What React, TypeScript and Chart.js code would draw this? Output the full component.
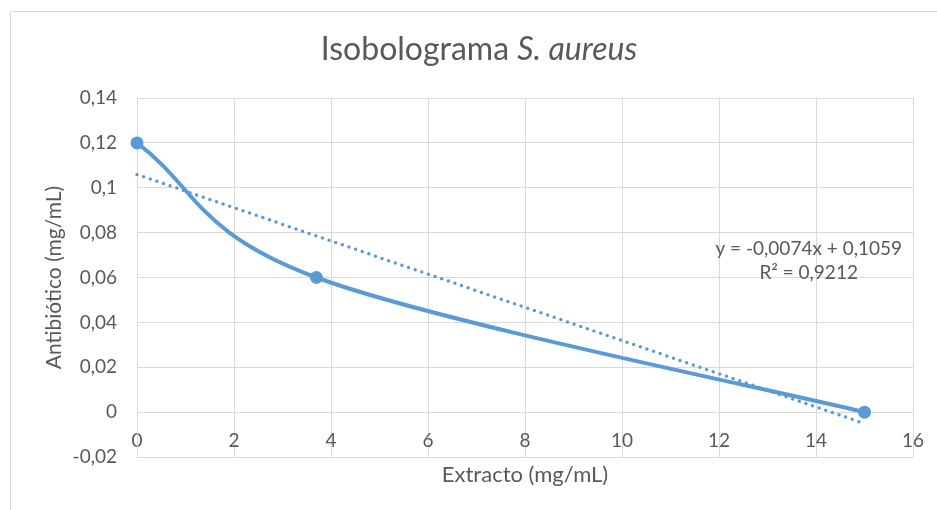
import { useEffect, useRef } from 'react';
import { Chart, registerables } from 'chart.js';

Chart.register(...registerables);

// ---- data ----
const extractoX = [0, 3.7, 15];
const antibioticoY = [0.12, 0.06, 0];
const trendX = [0, 15];
const trendY = [0.1059, -0.0051];
const xRange = [0, 16];
const yRange = [-0.02, 0.14];
const xStep = 2;
const yStep = 0.02;
const titleMain = 'Isobolograma ';
const titleItalic = 'S. aureus';
const xTitle = 'Extracto (mg/mL)';
const yTitle = 'Antibiótico (mg/mL)';
const equationLines = ['y = -0,0074x + 0,1059', 'R² = 0,9212'];

const FONT = 'Lato, "Open Sans", sans-serif';
const TEXT = '#595959';
const GRID = '#D9D9D9';
const BLUE = '#5B9BD5';

const fmt = (v: number) => String(Number(v.toFixed(4))).replace('.', ',');

// Excel-like smoothing (Catmull-Rom control points on the library's own point positions)
const smoothPlugin = {
  id: 'excelSmooth',
  beforeDatasetDraw(chart: any, args: any) {
    if (args.index !== 0) return;
    const meta = args.meta;
    const pts = meta.data;
    const n = pts.length;
    for (let i = 0; i < n; i++) {
      const p = pts[i];
      const prev = pts[i - 1] || p;
      const next = pts[i + 1] || p;
      const k = i === 0 ? 1 / 3 : 1 / 6;
      const dx = (next.x - prev.x) * k;
      const dy = (next.y - prev.y) * k;
      p.cp1x = p.x - dx;
      p.cp1y = p.y - dy;
      p.cp2x = p.x + dx;
      p.cp2y = p.y + dy;
    }
    meta.dataset._pointsUpdated = true;
    meta.dataset._path = undefined;
  },
};

const decorPlugin = {
  id: 'decor',
  beforeDraw(chart: any) {
    const ctx = chart.ctx;
    ctx.save();
    ctx.fillStyle = '#ffffff';
    ctx.fillRect(0, 0, chart.width, chart.height);
    ctx.strokeStyle = GRID;
    ctx.lineWidth = 1;
    ctx.beginPath();
    ctx.moveTo(10.5, chart.height);
    ctx.lineTo(10.5, 11.5);
    ctx.lineTo(chart.width, 11.5);
    ctx.stroke();
    ctx.restore();
  },
  afterDatasetsDraw(chart: any) {
    const ctx = chart.ctx;
    const xs = chart.scales.x;
    const ys = chart.scales.y;
    const cx = xs.getPixelForValue(13.85);
    const cy = ys.getPixelForValue(0.0729);
    ctx.save();
    ctx.fillStyle = TEXT;
    ctx.font = `19px ${FONT}`;
    ctx.textAlign = 'center';
    ctx.textBaseline = 'middle';
    equationLines.forEach((t, i) => ctx.fillText(t, cx, cy + i * 24));
    ctx.restore();
  },
  afterDraw(chart: any) {
    const ctx = chart.ctx;
    ctx.save();
    ctx.fillStyle = TEXT;
    ctx.textBaseline = 'middle';
    ctx.textAlign = 'left';
    const nFont = `32px ${FONT}`;
    const iFont = `italic 32px ${FONT}`;
    ctx.font = nFont;
    const w1 = ctx.measureText(titleMain).width;
    ctx.font = iFont;
    const w2 = ctx.measureText(titleItalic).width;
    const x0 = 479 - (w1 + w2) / 2;
    ctx.font = nFont;
    ctx.fillText(titleMain, x0, 50);
    ctx.font = iFont;
    ctx.fillText(titleItalic, x0 + w1, 50);
    ctx.restore();
  },
};

export default function App() {
  const ref = useRef<HTMLCanvasElement>(null);
  useEffect(() => {
    if (!ref.current) return;
    const chart = new Chart(ref.current, {
      type: 'line',
      data: {
        datasets: [
          {
            data: extractoX.map((x, i) => ({ x, y: antibioticoY[i] })),
            borderColor: BLUE,
            backgroundColor: BLUE,
            borderWidth: 4,
            pointRadius: 6.5,
            pointBorderWidth: 0,
            pointBackgroundColor: BLUE,
            tension: 0.4,
            fill: false,
            clip: false,
          },
          {
            data: trendX.map((x, i) => ({ x, y: trendY[i] })),
            borderColor: BLUE,
            borderWidth: 3.5,
            borderDash: [0, 7],
            borderCapStyle: 'round',
            pointRadius: 0,
            tension: 0,
            fill: false,
            clip: false,
          },
        ],
      } as any,
      options: {
        animation: false,
        responsive: false,
        devicePixelRatio: 1,
        layout: { padding: { top: 98, left: 11, right: 24, bottom: 0 } },
        plugins: { legend: { display: false }, tooltip: { enabled: false }, title: { display: false } },
        scales: {
          x: {
            type: 'linear',
            position: 'bottom',
            min: xRange[0],
            max: xRange[1],
            ticks: { display: false, stepSize: xStep },
            grid: { color: GRID, drawTicks: false, lineWidth: 1 },
            border: { display: false },
            title: {
              display: true,
              text: xTitle,
              color: TEXT,
              font: { family: FONT, size: 22 },
              padding: { top: 0, bottom: 22 },
            },
            afterFit: (s: any) => {
              s.height = 53;
            },
          },
          x2: {
            type: 'linear',
            axis: 'x',
            position: { y: 0 },
            min: xRange[0],
            max: xRange[1],
            ticks: { stepSize: xStep, color: TEXT, font: { family: FONT, size: 19 }, padding: 0 },
            grid: { display: false, drawTicks: true, tickLength: 17 },
            border: { display: false },
            afterFit: (s: any) => {
              s.height = 0;
            },
          },
          y: {
            type: 'linear',
            min: yRange[0],
            max: yRange[1],
            ticks: {
              stepSize: yStep,
              color: TEXT,
              font: { family: FONT, size: 19 },
              padding: 20,
              callback: (v: any) => fmt(Number(v)),
            },
            grid: { color: GRID, drawTicks: false, lineWidth: 1 },
            border: { display: true, color: GRID },
            title: {
              display: true,
              text: yTitle,
              color: TEXT,
              font: { family: FONT, size: 21 },
              padding: { top: 31, bottom: 0 },
            },
            afterFit: (s: any) => {
              s.width = 126;
            },
          },
        },
      } as any,
      plugins: [smoothPlugin, decorPlugin],
    });
    return () => chart.destroy();
  }, []);
  return (
    <div style={{ position: 'absolute', left: 0, top: 0, width: 937, height: 510 }}>
      <canvas ref={ref} width={937} height={510} />
    </div>
  );
}
